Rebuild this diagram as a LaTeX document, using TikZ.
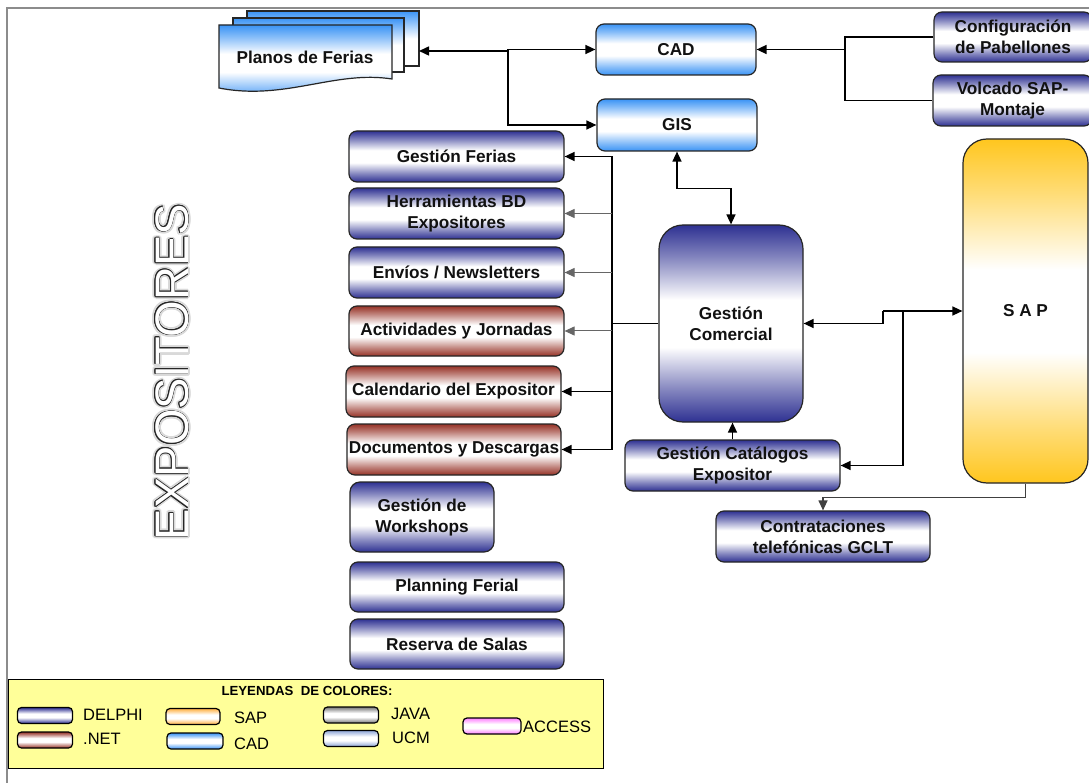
\documentclass[tikz,border=0pt]{standalone}
\usepackage{fontspec}
\setmainfont{Liberation Sans}
\usetikzlibrary{arrows.meta,calc}

\definecolor{dnavy}{HTML}{2E3192}
\definecolor{dnet}{HTML}{963226}
\definecolor{cadb}{HTML}{3A93F5}
\definecolor{sapy}{HTML}{FFC61E}
\definecolor{sapo}{HTML}{FFB040}
\definecolor{javag}{HTML}{7A7A7A}
\definecolor{ucmb}{HTML}{8FA6D8}
\definecolor{accp}{HTML}{FF80FF}
\definecolor{legy}{HTML}{FFFF99}
\definecolor{framegray}{HTML}{8C8C8C}
\definecolor{txt}{HTML}{111111}

\newcommand\mkbandshade[2]{%
  \pgfdeclareverticalshading{#1}{100bp}{color(0bp)=(#2); color(25bp)=(#2);
    color(33bp)=(#2!60!white); color(44bp)=(white); color(56bp)=(white);
    color(67bp)=(#2!60!white); color(75bp)=(#2); color(100bp)=(#2)}}
\mkbandshade{delphi}{dnavy}
\mkbandshade{dotnet}{dnet}
\mkbandshade{cad}{cadb}
\mkbandshade{sap}{sapy}
\mkbandshade{sapsw}{sapo}
\mkbandshade{java}{javag}
\mkbandshade{ucm}{ucmb}
\mkbandshade{access}{accp}
\pgfdeclareverticalshading{cadtop}{100bp}{color(0bp)=(white); color(25bp)=(white);
  color(50bp)=(white); color(65bp)=(cadb!60!white); color(75bp)=(cadb); color(100bp)=(cadb)}

\tikzset{
  box/.style={draw=black!85, line width=1.2pt, rounded corners=8pt, inner sep=0pt,
    align=center, font=\fontsize{17.2}{21}\selectfont\bfseries, text=txt},
  delphibox/.style={box, shade, shading=delphi},
  netbox/.style={box, shade, shading=dotnet},
  cadbox/.style={box, shade, shading=cad},
  conn/.style={line width=1.5pt, black},
  connl/.style={line width=1pt, black!60},
  arr/.style={-{Triangle[length=10pt,width=9pt]}},
  darr/.style={{Triangle[length=10pt,width=9pt]}-{Triangle[length=10pt,width=9pt]}},
  expo/.style={rotate=90, inner sep=0pt, font=\fontsize{47}{50}\selectfont},
  swatch/.style={draw=black, line width=1.2pt, rounded corners=4pt, inner sep=0pt,
    minimum width=55pt, minimum height=16pt, shade},
  legtxt/.style={inner sep=0pt, anchor=west, font=\fontsize{16.5}{18}\selectfont, text=black},
}

\begin{document}
\begin{tikzpicture}[x=1pt,y=-1pt]
\useasboundingbox (0,0) rectangle (1089,783);
\fill[white] (0,0) rectangle (1089,783);

% frame
\draw[framegray, line width=2pt] (6.5,783) -- (6.5,8.5) -- (1089,8.5);

% Planos de Ferias (multi-document)
\shade[shading=cadtop, draw=black!85, line width=1.2pt] (247,11) rectangle (419,66);
\shade[shading=cadtop, draw=black!85, line width=1.2pt] (233,18) rectangle (404,72);
\shade[shading=cad, draw=black!85, line width=1.2pt] (219,25) -- (392,25) -- (392,79)
  .. controls (335,70) and (285,101) .. (219,88) -- cycle;
\node[font=\fontsize{17.2}{21}\selectfont\bfseries, text=txt, inner sep=0pt] (planos) at (305,57) {Planos de Ferias};
\coordinate (ptip) at (419,51);

% top boxes
\node[cadbox, minimum width=160pt, minimum height=51pt] (CAD) at (676,49.5) {CAD};
\node[cadbox, minimum width=160pt, minimum height=52pt] (GIS) at (677,125) {GIS};
\node[delphibox, minimum width=158pt, minimum height=50pt] (Config) at (1013,37) {Configuración\\de Pabellones};
\node[delphibox, minimum width=159pt, minimum height=51pt] (Volcado) at (1012.5,100.5) {Volcado SAP-\\Montaje};

% left column
\node[delphibox, minimum width=215pt, minimum height=51pt] (GF) at (456.5,156.5) {Gestión Ferias};
\node[delphibox, minimum width=215pt, minimum height=51pt] (HBD) at (456.5,213.5) {Herramientas BD\\Expositores};
\node[delphibox, minimum width=215pt, minimum height=51pt] (Env) at (456.5,272.5) {Envíos / Newsletters};
\node[netbox, minimum width=215pt, minimum height=50pt] (Act) at (456.5,331) {Actividades y Jornadas};
\node[netbox, minimum width=215pt, minimum height=51pt] (Cal) at (453.5,391.5) {Calendario del Expositor};
\node[netbox, minimum width=214pt, minimum height=51pt] (Doc) at (454,449.5) {Documentos y Descargas};
\node[delphibox, minimum width=144pt, minimum height=70pt, rounded corners=10pt] (Wks) at (422,517) {Gestión de\\Workshops};
\node[delphibox, minimum width=214pt, minimum height=50pt] (Plan) at (457,587) {Planning Ferial};
\node[delphibox, minimum width=214pt, minimum height=50pt] (Res) at (457,644) {Reserva de Salas};

% centre and right
\node[delphibox, minimum width=144pt, minimum height=197pt, rounded corners=24pt] (GC) at (731,323.5) {Gestión\\Comercial};
\node[box, shade, shading=sap, minimum width=125pt, minimum height=344pt, rounded corners=24pt] (SAP) at (1025.5,311) {S A P};
\node[delphibox, minimum width=215pt, minimum height=51pt] (GCat) at (732.5,465.5) {Gestión Catálogos\\Expositor};
\node[delphibox, minimum width=214pt, minimum height=51pt] (Cont) at (823,536.5) {Contrataciones\\telefónicas GCLT};

% EXPOSITORES
\coordinate (expoc) at (172,372);
\foreach \a in {0,30,...,330} {\node[expo, text=black!15] at ($(expoc)+(\a:2.6)$) {EXPOSITORES};}
\foreach \a in {0,30,...,330} {\node[expo, text=black!85] at ($(expoc)+(\a:0.7)$) {EXPOSITORES};}
\node[expo, text=white] (expo) at (expoc) {EXPOSITORES};

% connectors: Planos - CAD - GIS
\coordinate (j1) at (508,51);
\draw[conn, arr] (j1) -- (ptip);
\draw[conn, arr] (j1 |- CAD.west) -- (CAD.west);
\draw[conn, arr] (j1 |- CAD.west) |- (GIS.west);

% Config / Volcado -> CAD
\coordinate (j2) at (845,0);
\draw[conn] (Config.west) -| (j2 |- Volcado.west) -- (Volcado.west);
\draw[conn, arr] (j2 |- CAD.east) -- (CAD.east);

% GIS <-> GC
\draw[conn, darr] (GIS.south) -- ++(0,37) -| (GC.north);

% bus to left column
\coordinate (bus) at (612,0);
\draw[conn] (GC.west) -- (bus |- GC.west);
\draw[conn] (bus |- GF.east) -- (bus |- Doc.east);
\draw[conn, arr] (bus |- GF.east) -- (GF.east);
\draw[connl, arr] (bus |- HBD.east) -- (HBD.east);
\draw[connl, arr] (bus |- Env.east) -- (Env.east);
\draw[connl, arr] (bus |- Act.east) -- (Act.east);
\draw[conn, arr] (bus |- Cal.east) -- (Cal.east);
\draw[conn, arr] (bus |- Doc.east) -- (Doc.east);

% GC <-> SAP, SAP -> GCat
\coordinate (j3) at (883,0);
\coordinate (j4) at (903,0);
\draw[conn, arr] (j3 |- SAP.west) -- (SAP.west);
\draw[conn, arr] (j3 |- SAP.west) -- (j3 |- GC.east) -- (GC.east);
\draw[conn, arr] (j4 |- SAP.west) -- (j4 |- GCat.east) -- (GCat.east);

% GCat -> GC
\draw[conn, arr] (GCat.north) -- (GCat.north |- GC.south);

% SAP -> Contrataciones
\draw[connl, line width=1.2pt, black!75, arr] (SAP.south) -- ++(0,14) -| (Cont.north);

% legend
\node[draw=black, line width=1.2pt, fill=legy, minimum width=595pt, minimum height=89pt,
  anchor=north west, inner sep=0pt] (leg) at (8,679) {};
\node[inner sep=0pt, font=\fontsize{13.2}{15}\selectfont\bfseries] (legt) at (307,691) {LEYENDAS~ DE COLORES:};
\node[swatch, shading=delphi] (swD) at (45,715.5) {};
\node[legtxt] (tD) at (83,715) {DELPHI};
\node[swatch, shading=dotnet] (swN) at (45,740) {};
\node[legtxt] (tN) at (83,738.5) {.NET};
\node[swatch, shading=sapsw, minimum width=54pt] (swS) at (193,716.5) {};
\node[legtxt] (tS) at (234,718) {SAP};
\node[swatch, shading=cad, minimum width=56pt] (swC) at (195,741) {};
\node[legtxt] (tC) at (234,744) {CAD};
\node[swatch, shading=java] (swJ) at (351,715) {};
\node[legtxt] (tJ) at (391,714) {JAVA};
\node[swatch, shading=ucm] (swU) at (351,738.5) {};
\node[legtxt] (tU) at (392,738) {UCM};
\node[swatch, shading=access, minimum width=58pt] (swA) at (492,726) {};
\node[legtxt] (tA) at (523,727) {ACCESS};
\end{tikzpicture}
\end{document}
